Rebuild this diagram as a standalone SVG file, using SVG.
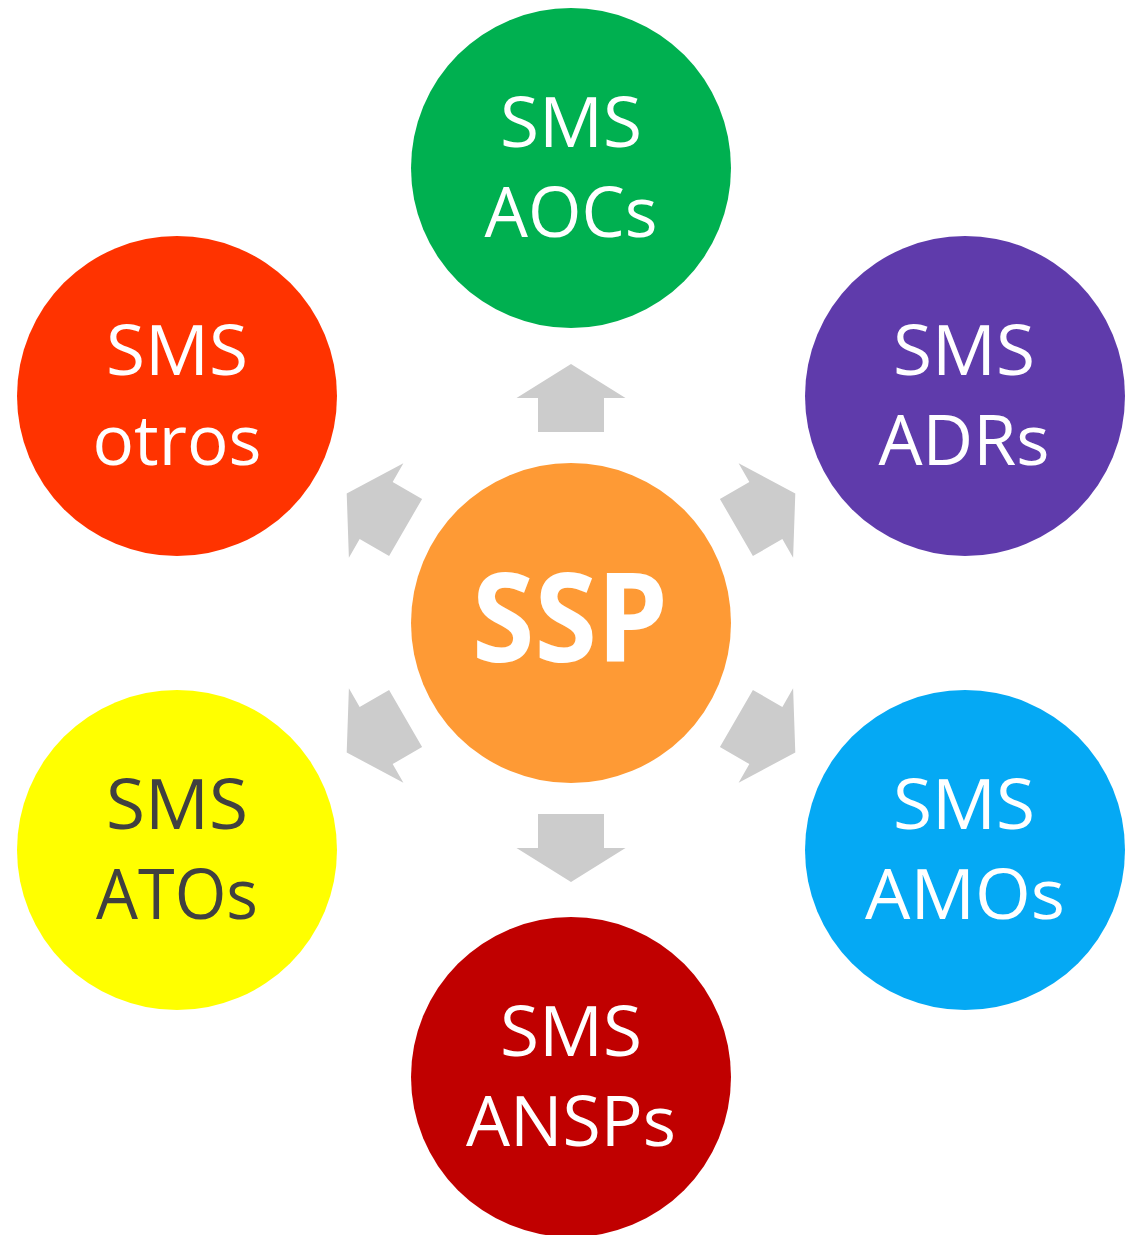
<svg xmlns="http://www.w3.org/2000/svg" width="1128" height="1235" viewBox="0 0 1128 1235">
<style>
.t{font-family:"Open Sans","Liberation Sans",sans-serif;font-size:70px;fill:#fff;text-anchor:middle}
.dark{fill:#404040}
.ssp{font-family:"Open Sans","Liberation Sans",sans-serif;font-size:124px;font-weight:bold;fill:#fff;text-anchor:middle}
.arr{fill:#cccccc}
</style>
<defs>
<polygon id="arrow" class="arr" points="-33,-191 33,-191 33,-225 54.5,-225 0,-259 -54.5,-225 -33,-225"/>
</defs>
<g id="connectors" transform="translate(571,623)">
<use href="#arrow"/>
<use href="#arrow" transform="rotate(60)"/>
<use href="#arrow" transform="rotate(120)"/>
<use href="#arrow" transform="rotate(180)"/>
<use href="#arrow" transform="rotate(240)"/>
<use href="#arrow" transform="rotate(300)"/>
</g>
<g id="ssp">
<circle cx="571" cy="623" r="160" fill="#fe9a35"/>
<text class="ssp" x="570" y="662" textLength="196" lengthAdjust="spacingAndGlyphs">SSP</text>
</g>
<g id="aocs">
<circle cx="571" cy="168" r="160" fill="#00b050"/>
<text class="t" x="571" y="147" textLength="142" lengthAdjust="spacingAndGlyphs">SMS</text>
<text class="t" x="571" y="237" textLength="173" lengthAdjust="spacingAndGlyphs">AOCs</text>
</g>
<g id="adrs">
<circle cx="965" cy="396" r="160" fill="#5f3bab"/>
<text class="t" x="964" y="375" textLength="142" lengthAdjust="spacingAndGlyphs">SMS</text>
<text class="t" x="964" y="465" textLength="171" lengthAdjust="spacingAndGlyphs">ADRs</text>
</g>
<g id="amos">
<circle cx="965" cy="850" r="160" fill="#05a9f4"/>
<text class="t" x="964" y="829" textLength="142" lengthAdjust="spacingAndGlyphs">SMS</text>
<text class="t" x="965" y="919" textLength="200" lengthAdjust="spacingAndGlyphs">AMOs</text>
</g>
<g id="ansps">
<circle cx="571" cy="1077" r="160" fill="#c00000"/>
<text class="t" x="571" y="1056" textLength="142" lengthAdjust="spacingAndGlyphs">SMS</text>
<text class="t" x="571" y="1146" textLength="210" lengthAdjust="spacingAndGlyphs">ANSPs</text>
</g>
<g id="atos">
<circle cx="177" cy="850" r="160" fill="#ffff00"/>
<text class="t dark" x="177" y="829" textLength="142" lengthAdjust="spacingAndGlyphs">SMS</text>
<text class="t dark" x="177" y="919" textLength="162" lengthAdjust="spacingAndGlyphs">ATOs</text>
</g>
<g id="otros">
<circle cx="177" cy="396" r="160" fill="#ff3300"/>
<text class="t" x="177" y="375" textLength="142" lengthAdjust="spacingAndGlyphs">SMS</text>
<text class="t" x="177" y="465" textLength="169" lengthAdjust="spacingAndGlyphs">otros</text>
</g>
</svg>
